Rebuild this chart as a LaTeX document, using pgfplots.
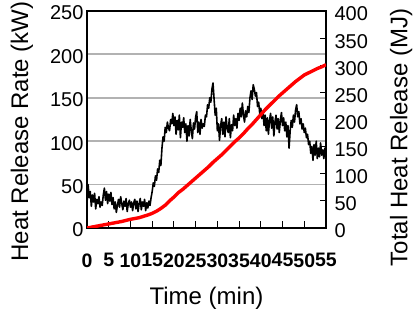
\documentclass[border=0pt]{standalone}
\usepackage{fontspec}
\setmainfont{Liberation Sans}
\usepackage{pgfplots}
\pgfplotsset{compat=1.18}
\begin{document}
\begin{tikzpicture}[x=1pt,y=1pt]
\path[use as bounding box] (0,0) rectangle (420,320);
\begin{axis}[
 at={(87pt,92pt)}, anchor=south west,
 width=239pt, height=217pt, scale only axis,
 xmin=0,xmax=55,ymin=0,ymax=250,
 xtick={0,5,...,55}, ytick={0,50,...,250},
 xtick pos=bottom, ytick pos=left,
 tick align=inside,
 major tick length=7pt,
 ytick style={draw=none},
 xtick style={line width=1pt, black},
 ymajorgrids, grid style={color=black!30, line width=1.8pt},
 axis line style={line width=1.4pt},
 /pgf/number format/assume math mode=true,
 ticklabel style={font=\fontsize{20}{20}\selectfont},
 xticklabel style={font=\fontsize{19.5}{20}\selectfont\bfseries, yshift=-22pt},
 yticklabel style={yshift=-2pt},
 xlabel={Time (min)}, ylabel={Heat Release Rate (kW)},
 label style={font=\fontsize{24}{24}\selectfont},
 xlabel style={at={(axis description cs:0.5,-0.323)}, anchor=center},
 ylabel style={at={(axis description cs:-0.272,0.445)}, anchor=center},
]
\addplot[black, line width=1.6pt, line join=round] coordinates {
(0,28) (0.25,50) (0.5,35) (0.75,42) (1,25) (1.25,38) (1.5,30) (1.75,40) (2,22) (2.25,33) (2.5,28) (2.75,36) (3,24) (3.25,30) (3.5,26) (3.75,38) (4,46) (4.25,32) (4.5,42) (4.75,28) (5,39) (5.25,31) (5.5,41) (5.75,27) (6,35) (6.25,22) (6.5,30) (6.75,18) (7,26) (7.25,33) (7.5,24) (7.75,36) (8,28) (8.25,21) (8.5,31) (8.75,25) (9,34) (9.25,19) (9.5,28) (9.75,32) (10,24) (10.25,30) (10.5,20) (10.75,29) (11,33) (11.25,22) (11.5,31) (11.75,19) (12,28) (12.25,34) (12.5,21) (12.75,30) (13,25) (13.25,33) (13.5,20) (13.75,29) (14,23) (14.25,31) (14.5,26) (14.75,35) (15,42) (15.25,52) (15.5,48) (15.75,60) (16,55) (16.25,68) (16.5,64) (16.75,78) (17,72) (17.25,92) (17.5,105) (17.75,100) (18,116) (18.25,110) (18.5,122) (18.75,115) (19,112) (19.25,125) (19.5,120) (19.75,132) (20,118) (20.25,128) (20.5,108) (20.75,124) (21,113) (21.25,130) (21.5,104) (21.75,122) (22,116) (22.25,127) (22.5,110) (22.75,120) (23,100) (23.25,118) (23.5,106) (23.75,125) (24,112) (24.25,103) (24.5,121) (24.75,114) (25,128) (25.25,134) (25.5,110) (25.75,122) (26,108) (26.25,125) (26.5,115) (26.75,120) (27,117) (27.25,130) (27.5,128) (27.75,142) (28,138) (28.25,150) (28.5,145) (28.75,160) (29,167) (29.25,148) (29.5,130) (29.75,138) (30,112) (30.25,120) (30.5,101) (30.75,118) (31,126) (31.25,108) (31.5,122) (31.75,105) (32,128) (32.25,115) (32.5,110) (32.75,126) (33,104) (33.25,119) (33.5,112) (33.75,130) (34,118) (34.25,126) (34.5,115) (34.75,132) (35,124) (35.25,138) (35.5,128) (35.75,144) (36,130) (36.25,122) (36.5,135) (36.75,128) (37,140) (37.25,133) (37.5,150) (37.75,158) (38,148) (38.25,165) (38.5,160) (38.75,152) (39,156) (39.25,140) (39.5,145) (39.75,132) (40,138) (40.25,126) (40.5,134) (40.75,118) (41,130) (41.25,112) (41.5,127) (41.75,108) (42,124) (42.25,132) (42.5,115) (42.75,128) (43,106) (43.25,122) (43.5,130) (43.75,114) (44,126) (44.25,110) (44.5,124) (44.75,133) (45,118) (45.25,127) (45.5,112) (45.75,122) (46,105) (46.25,118) (46.5,92) (46.75,112) (47,124) (47.25,116) (47.5,130) (47.75,122) (48,136) (48.25,142) (48.5,128) (48.75,134) (49,120) (49.25,126) (49.5,114) (49.75,120) (50,110) (50.25,115) (50.5,104) (50.75,108) (51,96) (51.25,100) (51.5,86) (51.75,94) (52,78) (52.25,96) (52.5,84) (52.75,100) (53,80) (53.25,92) (53.5,82) (53.75,98) (54,84) (54.25,90) (54.5,80) (54.75,92) (55,86)
};
\end{axis}
\begin{axis}[
 at={(87pt,92pt)}, anchor=south west,
 width=239pt, height=217pt, scale only axis,
 xmin=0,xmax=55,ymin=0,ymax=400,
 axis x line=none, axis y line*=right,
 ytick={0,50,...,400}, tick align=inside, major tick length=6pt,
 ytick style={line width=1pt, black},
 axis line style={line width=1.4pt},
 /pgf/number format/assume math mode=true,
 ticklabel style={font=\fontsize{20}{20}\selectfont},
 yticklabel style={xshift=5pt, yshift=-3pt},
 ylabel={Total Heat Release (MJ)},
 label style={font=\fontsize{24}{24}\selectfont},
 ylabel style={at={(axis description cs:1.314,0.417)}, anchor=center},
]
\addplot[red, line width=3.4pt, line join=round] coordinates {
(0,0) (2,3) (4,6) (6,9) (8,12) (10,16) (12,19) (14,24) (15,27) (16,31) (17,36) (18,42) (19,50) (20,57) (21,65) (22,71) (23,78) (24,85) (25,92) (26,99) (27,106) (28,113) (29,121) (30,128) (31,135) (32,143) (33,151) (34,159) (35,166) (36,174) (37,183) (38,191) (39,200) (40,209) (41,218) (42,226) (43,234) (44,242) (45,249) (46,256) (47,263) (48,270) (49,276) (50,282) (51,286) (52,290) (53,294) (54,297) (55,301)
};
\end{axis}
\end{tikzpicture}
\end{document}
